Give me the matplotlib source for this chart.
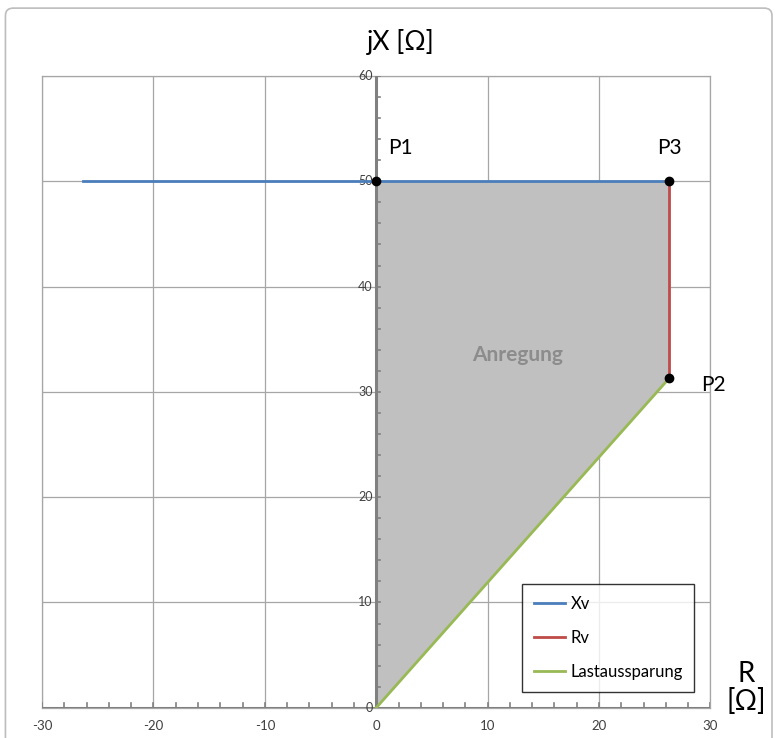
import numpy as np
import matplotlib
matplotlib.use("Agg")
import matplotlib.pyplot as plt
from matplotlib.patches import Polygon, FancyBboxPatch

plt.rcParams["font.family"] = ["Lato", "DejaVu Sans"]
plt.rcParams["axes.unicode_minus"] = False

# Impedanzwerte in Ohm
Rv = 26.3
Xv = 50.0
P2_X = 31.3

xv_r = [-Rv, Rv]
xv_x = [Xv, Xv]
rv_r = [Rv, Rv]
rv_x = [Xv, P2_X]
last_r = [0.0, Rv]
last_x = [0.0, P2_X]

punkte = {"P1": (0.0, Xv), "P3": (Rv, Xv), "P2": (Rv, P2_X)}
flaeche_r = [0.0, 0.0, Rv, Rv]
flaeche_x = [0.0, Xv, Xv, P2_X]

fig = plt.figure(figsize=(7.79, 7.38), dpi=100)
ax = fig.add_axes([0.054, 0.041, 0.858, 0.856])

# Rahmen um das gesamte Diagramm
fig.patches.append(FancyBboxPatch((0.007, -0.02), 0.984, 1.009,
                                  boxstyle="round,pad=0,rounding_size=0.01",
                                  transform=fig.transFigure, fill=False,
                                  edgecolor="#bdbdbd", linewidth=1.2))

ax.set_xlim(-30, 30)
ax.set_ylim(0, 60)
ax.set_xticks(np.arange(-30, 31, 10))
ax.set_yticks(np.arange(0, 61, 10))
ax.grid(True, color="#a6a6a6", linewidth=0.9)
ax.set_axisbelow(True)
for s in ax.spines.values():
    s.set_color("#a6a6a6")
    s.set_linewidth(0.9)
ax.tick_params(length=0, pad=9, labelleft=False, labelsize=9.5, colors="#404040")

# Achsen durch den Ursprung
ax.axvline(0, color="#808080", linewidth=2.2, zorder=3)
ax.axhline(0, color="#808080", linewidth=2.2, zorder=3)
for y in np.arange(0, 61, 2):
    ax.plot([0, 0.35], [y, y], color="#808080", linewidth=1.2, zorder=3)
for x in np.arange(-30, 31, 2):
    ax.plot([x, x], [0, 0.45], color="#808080", linewidth=1.2, zorder=3)
for y in np.arange(0, 61, 10):
    ax.text(-0.3, y, str(y), ha="right", va="center", fontsize=9, color="#404040")

ax.add_patch(Polygon(list(zip(flaeche_r, flaeche_x)), closed=True,
                     facecolor="#c0c0c0", edgecolor="none", zorder=2))

ax.plot(xv_r, xv_x, color="#4a7ebb", linewidth=2, label="Xv", zorder=4)
ax.plot(rv_r, rv_x, color="#be4b48", linewidth=2, label="Rv", zorder=4)
ax.plot(last_r, last_x, color="#98b954", linewidth=2, label="Lastaussparung", zorder=4)

for name, (r, x) in punkte.items():
    ax.plot(r, x, "o", color="black", markersize=6, zorder=5)
ax.text(1.1, 52.6, "P1", fontsize=15, color="black")
ax.text(Rv, 52.6, "P3", fontsize=15, color="black", ha="center")
ax.text(Rv + 2.9, P2_X - 0.6, "P2", fontsize=15, color="black", va="center")

ax.text(12.7, 33.5, "Anregung", fontsize=15, fontweight="bold",
        color="#8c8c8c", ha="center", va="center", zorder=4)

fig.text(0.515, 0.943, "jX [Ω]", fontsize=19, ha="center", va="center")
fig.text(0.958, 0.068, "R\n[Ω]", fontsize=20, ha="center", va="center",
         linespacing=1.05)

leg = ax.legend(loc="lower right", bbox_to_anchor=(0.976, 0.025), fontsize=12,
                frameon=True, fancybox=False, edgecolor="black",
                handlelength=1.9, handletextpad=0.3, borderpad=0.7,
                labelspacing=1.1, borderaxespad=0)
leg.get_frame().set_linewidth(1.0)

fig.savefig("out.png", dpi=100)
